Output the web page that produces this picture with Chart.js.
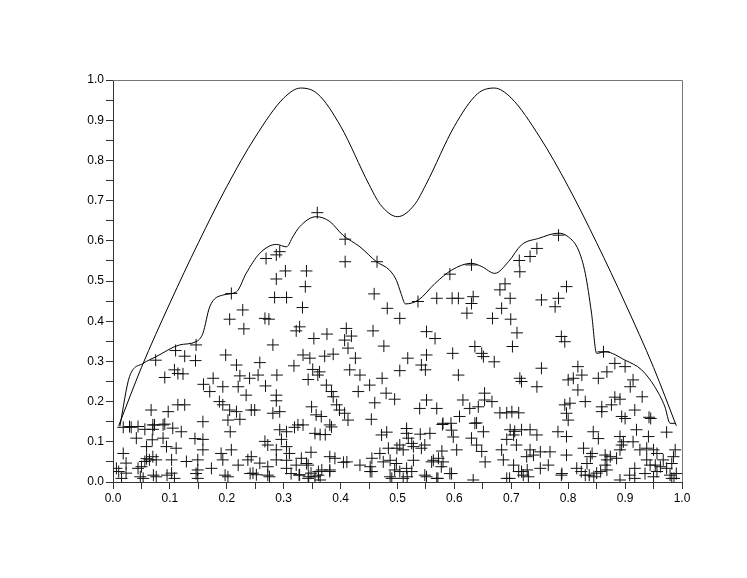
<!DOCTYPE html>
<html>
<head>
<meta charset="utf-8">
<script src="https://cdn.jsdelivr.net/npm/chart.js@4"></script>
<style>
  html, body { margin: 0; padding: 0; background: #fff; }
  #wrap { width: 747px; height: 578px; }
</style>
</head>
<body>
<div id="wrap"><canvas id="chart" width="747" height="578"></canvas></div>
<script>
// upper curve (smooth double bump)
const upperX = [0.01, 0.05, 0.1, 0.15, 0.2, 0.25, 0.3, 0.33, 0.36, 0.4, 0.45, 0.47, 0.5, 0.53, 0.55, 0.6, 0.64, 0.67, 0.7, 0.75, 0.8, 0.85, 0.9, 0.95, 0.99];
const upperY = [0.14, 0.285, 0.445, 0.595, 0.735, 0.858, 0.955, 0.98, 0.965, 0.885, 0.74, 0.69, 0.66, 0.69, 0.74, 0.885, 0.965, 0.98, 0.955, 0.858, 0.735, 0.595, 0.445, 0.285, 0.14];

// lower curve (envelope of the points)
const lowerX = [0.012, 0.029, 0.053, 0.076, 0.117, 0.146, 0.158, 0.170, 0.193, 0.217, 0.234, 0.258, 0.287, 0.305, 0.316, 0.328, 0.357, 0.381, 0.404, 0.434, 0.463, 0.486, 0.498, 0.506, 0.514, 0.537, 0.566, 0.595, 0.630, 0.648, 0.671, 0.695, 0.718, 0.748, 0.783, 0.800, 0.818, 0.830, 0.841, 0.850, 0.865, 0.900, 0.929, 0.952, 0.970, 0.979, 0.988];
const lowerY = [0.138, 0.262, 0.295, 0.312, 0.341, 0.349, 0.370, 0.436, 0.465, 0.473, 0.519, 0.569, 0.591, 0.585, 0.610, 0.635, 0.660, 0.648, 0.614, 0.585, 0.548, 0.527, 0.502, 0.470, 0.443, 0.453, 0.494, 0.527, 0.544, 0.536, 0.519, 0.548, 0.590, 0.606, 0.619, 0.610, 0.577, 0.519, 0.420, 0.320, 0.324, 0.303, 0.279, 0.237, 0.187, 0.146, 0.146];

// scattered samples [x, y]
const samples = [
  [0.359,0.670],[0.408,0.604],[0.408,0.548],[0.464,0.548],[0.269,0.556],[0.287,0.565],[0.293,0.573],[0.303,0.525],
  [0.287,0.505],[0.340,0.525],[0.338,0.486],[0.284,0.459],[0.305,0.459],[0.333,0.434],[0.459,0.468],[0.482,0.432],
  [0.504,0.407],[0.208,0.469],[0.228,0.428],[0.205,0.405],[0.267,0.407],[0.274,0.405],[0.230,0.381],[0.328,0.386],
  [0.322,0.376],[0.376,0.368],[0.410,0.382],[0.419,0.363],[0.407,0.353],[0.353,0.357],[0.457,0.376],[0.281,0.341],
  [0.476,0.338],[0.413,0.333],[0.146,0.341],[0.110,0.327],[0.126,0.313],[0.145,0.302],[0.075,0.303],[0.198,0.316],
  [0.217,0.291],[0.258,0.297],[0.334,0.316],[0.346,0.308],[0.372,0.313],[0.387,0.318],[0.426,0.308],[0.318,0.289],
  [0.351,0.280],[0.108,0.279],[0.114,0.270],[0.091,0.260],[0.123,0.269],[0.176,0.258],[0.159,0.243],[0.170,0.225],
  [0.193,0.237],[0.223,0.264],[0.240,0.258],[0.255,0.266],[0.220,0.237],[0.234,0.216],[0.268,0.239],[0.288,0.266],
  [0.287,0.216],[0.287,0.202],[0.281,0.171],[0.293,0.175],[0.343,0.255],[0.360,0.266],[0.363,0.274],[0.375,0.241],
  [0.384,0.225],[0.387,0.212],[0.416,0.279],[0.434,0.266],[0.451,0.241],[0.473,0.258],[0.431,0.225],[0.480,0.221],
  [0.495,0.206],[0.504,0.277],[0.460,0.197],[0.454,0.156],[0.187,0.200],[0.193,0.192],[0.205,0.179],[0.217,0.175],
  [0.202,0.154],[0.223,0.156],[0.243,0.179],[0.249,0.179],[0.067,0.179],[0.097,0.175],[0.114,0.192],[0.126,0.192],
  [0.158,0.150],[0.349,0.187],[0.357,0.167],[0.366,0.163],[0.393,0.192],[0.398,0.179],[0.407,0.171],[0.413,0.154],
  [0.381,0.142],[0.070,0.142],[0.088,0.142],[0.029,0.138],[0.044,0.138],[0.325,0.142],[0.334,0.142],
  [0.783,0.614],[0.745,0.581],[0.733,0.561],[0.714,0.551],[0.715,0.523],[0.630,0.540],[0.592,0.517],[0.536,0.449],
  [0.569,0.457],[0.596,0.457],[0.607,0.457],[0.633,0.461],[0.630,0.444],[0.622,0.420],[0.689,0.493],[0.680,0.478],
  [0.698,0.457],[0.683,0.432],[0.667,0.407],[0.699,0.405],[0.753,0.453],[0.783,0.457],[0.777,0.436],[0.797,0.486],
  [0.551,0.374],[0.566,0.357],[0.710,0.371],[0.702,0.337],[0.788,0.362],[0.794,0.349],[0.636,0.337],[0.648,0.320],
  [0.651,0.312],[0.670,0.299],[0.597,0.320],[0.518,0.308],[0.551,0.316],[0.542,0.291],[0.549,0.279],[0.607,0.266],
  [0.862,0.324],[0.882,0.295],[0.868,0.274],[0.853,0.258],[0.900,0.287],[0.914,0.254],[0.909,0.237],[0.817,0.287],
  [0.824,0.266],[0.800,0.254],[0.809,0.258],[0.817,0.229],[0.753,0.283],[0.715,0.258],[0.718,0.250],[0.745,0.237],
  [0.930,0.212],[0.882,0.211],[0.891,0.206],[0.876,0.192],[0.894,0.163],[0.900,0.158],[0.917,0.179],[0.942,0.161],
  [0.945,0.158],[0.859,0.187],[0.859,0.175],[0.830,0.200],[0.794,0.192],[0.803,0.196],[0.797,0.171],[0.800,0.154],
  [0.653,0.221],[0.653,0.204],[0.666,0.200],[0.615,0.204],[0.627,0.183],[0.642,0.187],[0.609,0.163],[0.636,0.146],
  [0.551,0.204],[0.539,0.183],[0.569,0.183],[0.680,0.172],[0.692,0.172],[0.701,0.175],[0.713,0.172],[0.580,0.146],
  [0.594,0.146],
  [0.018,0.136],[0.032,0.136],[0.056,0.131],[0.073,0.142],[0.091,0.144],[0.105,0.134],[0.120,0.125],[0.070,0.131],
  [0.041,0.109],[0.069,0.105],[0.088,0.109],[0.059,0.088],[0.094,0.088],[0.111,0.084],[0.144,0.108],[0.158,0.106],
  [0.158,0.080],[0.206,0.125],[0.208,0.080],[0.293,0.130],[0.305,0.125],[0.319,0.136],[0.296,0.106],[0.305,0.088],
  [0.310,0.071],[0.267,0.101],[0.272,0.092],[0.287,0.080],[0.305,0.054],[0.018,0.071],[0.059,0.058],[0.064,0.055],
  [0.070,0.063],[0.056,0.051],[0.076,0.055],[0.103,0.055],[0.023,0.047],[0.044,0.034],[0.050,0.038],[0.006,0.034],
  [0.023,0.022],[0.015,0.009],[0.076,0.013],[0.103,0.022],[0.108,0.009],[0.053,0.009],[0.129,0.051],[0.149,0.055],
  [0.149,0.030],[0.173,0.034],[0.190,0.071],[0.193,0.055],[0.202,0.013],[0.220,0.042],[0.237,0.055],[0.243,0.063],
  [0.246,0.022],[0.252,0.018],[0.275,0.013],[0.258,0.047],[0.272,0.038],[0.287,0.055],[0.305,0.034],[0.322,0.042],
  [0.328,0.018],[0.149,0.009],
  [0.355,0.121],[0.364,0.118],[0.373,0.118],[0.384,0.137],[0.348,0.074],[0.381,0.063],[0.390,0.059],[0.405,0.049],
  [0.411,0.050],[0.343,0.042],[0.361,0.026],[0.367,0.030],[0.355,0.013],[0.343,0.009],[0.381,0.030],[0.434,0.042],
  [0.455,0.059],[0.452,0.038],[0.455,0.026],[0.469,0.071],[0.484,0.084],[0.472,0.117],[0.481,0.124],[0.516,0.133],
  [0.516,0.121],[0.519,0.109],[0.525,0.096],[0.540,0.119],[0.557,0.121],[0.504,0.092],[0.499,0.084],[0.510,0.080],
  [0.528,0.088],[0.542,0.084],[0.548,0.092],[0.578,0.077],[0.604,0.080],[0.579,0.143],[0.595,0.129],[0.598,0.112],
  [0.630,0.109],[0.639,0.092],[0.648,0.076],[0.654,0.050],[0.639,0.147],[0.651,0.125],[0.475,0.050],[0.487,0.054],
  [0.498,0.046],[0.495,0.030],[0.487,0.013],[0.504,0.026],[0.516,0.034],[0.525,0.026],[0.528,0.054],[0.548,0.017],
  [0.560,0.050],[0.563,0.054],[0.572,0.059],[0.580,0.050],[0.577,0.038],[0.595,0.021],[0.569,0.009],[0.633,0.005],
  [0.331,0.059],[0.340,0.046],[0.348,0.022],[0.364,0.005],
  [0.698,0.130],[0.706,0.126],[0.718,0.130],[0.733,0.130],[0.745,0.117],[0.692,0.106],[0.704,0.117],[0.782,0.125],
  [0.797,0.113],[0.844,0.125],[0.853,0.108],[0.891,0.113],[0.897,0.100],[0.894,0.092],[0.914,0.100],[0.920,0.130],
  [0.973,0.124],[0.941,0.113],[0.683,0.080],[0.686,0.055],[0.704,0.042],[0.713,0.026],[0.721,0.017],[0.730,0.013],
  [0.692,0.009],[0.709,0.092],[0.733,0.080],[0.727,0.063],[0.739,0.067],[0.751,0.075],[0.768,0.075],[0.765,0.042],
  [0.751,0.034],[0.797,0.067],[0.788,0.017],[0.815,0.034],[0.827,0.084],[0.833,0.046],[0.839,0.063],[0.842,0.071],
  [0.830,0.017],[0.845,0.013],[0.850,0.022],[0.865,0.067],[0.868,0.055],[0.865,0.042],[0.874,0.063],[0.885,0.059],
  [0.891,0.080],[0.868,0.030],[0.891,0.005],[0.917,0.034],[0.917,0.009],[0.926,0.080],[0.938,0.084],[0.950,0.080],
  [0.956,0.071],[0.938,0.055],[0.944,0.042],[0.953,0.042],[0.962,0.038],[0.973,0.034],[0.982,0.046],[0.988,0.080],
  [0.985,0.063],[0.967,0.055],[0.979,0.017],[0.982,0.009],[0.950,0.013],
  [0.010,0.026],[0.048,0.013],[0.071,0.017],[0.095,0.017],[0.146,0.021],[0.197,0.017],[0.241,0.021],[0.272,0.017],
  [0.313,0.021],[0.327,0.017],[0.344,0.013],[0.361,0.017],[0.381,0.026],[0.452,0.026],[0.490,0.009],[0.510,0.009],
  [0.517,0.013],[0.551,0.013],[0.571,0.009],[0.592,0.021],[0.697,0.009],[0.718,0.026],[0.728,0.030],[0.789,0.021],
  [0.823,0.026],[0.837,0.017],[0.857,0.026],[0.908,0.017],[0.935,0.021],[0.956,0.026],[0.986,0.009],[0.990,0.021]
];

const toPts = (xs, ys) => xs.map((x, i) => ({ x: x, y: ys[i] }));

// top and right edges of the frame
const framePlugin = {
  id: 'frame',
  afterDraw: (chart) => {
    const a = chart.chartArea;
    const ctx = chart.ctx;
    ctx.save();
    ctx.strokeStyle = '#777';
    ctx.lineWidth = 1;
    ctx.beginPath();
    ctx.moveTo(a.left, a.top + 0.5);
    ctx.lineTo(a.right + 0.5, a.top + 0.5);
    ctx.lineTo(a.right + 0.5, a.bottom);
    ctx.stroke();
    ctx.restore();
  }
};

const tickLabel = (value) => {
  const r = Math.round(value * 20);
  return r % 2 === 0 ? (r / 20).toFixed(1) : '';
};

const axisOpts = (fitKey, size) => ({
  type: 'linear',
  min: 0,
  max: 1,
  afterFit: (s) => { s[fitKey] = size; },
  border: { color: '#333', width: 1 },
  grid: { drawOnChartArea: false, drawTicks: true, tickLength: 7, color: '#333' },
  ticks: {
    stepSize: 0.05,
    autoSkip: false,
    maxRotation: 0,
    padding: 2,
    color: '#000',
    font: { family: 'Liberation Sans', size: 12 },
    callback: tickLabel
  }
});

new Chart(document.getElementById('chart').getContext('2d'), {
  type: 'scatter',
  data: {
    datasets: [
      {
        data: toPts(upperX, upperY),
        showLine: true,
        pointRadius: 0,
        borderColor: '#000',
        borderWidth: 1,
        cubicInterpolationMode: 'monotone'
      },
      {
        data: toPts(lowerX, lowerY),
        showLine: true,
        pointRadius: 0,
        borderColor: '#000',
        borderWidth: 1,
        cubicInterpolationMode: 'monotone'
      },
      {
        data: samples.map(p => ({ x: p[0], y: p[1] })),
        showLine: false,
        pointStyle: 'cross',
        pointRadius: 6,
        borderColor: '#111',
        borderWidth: 1
      }
    ]
  },
  options: {
    responsive: false,
    animation: false,
    layout: { padding: { top: 80, right: 65, left: 0, bottom: 0 } },
    plugins: { legend: { display: false }, tooltip: { enabled: false } },
    scales: {
      x: axisOpts('height', 96),
      y: axisOpts('width', 113)
    }
  },
  plugins: [framePlugin]
});
</script>
</body>
</html>
